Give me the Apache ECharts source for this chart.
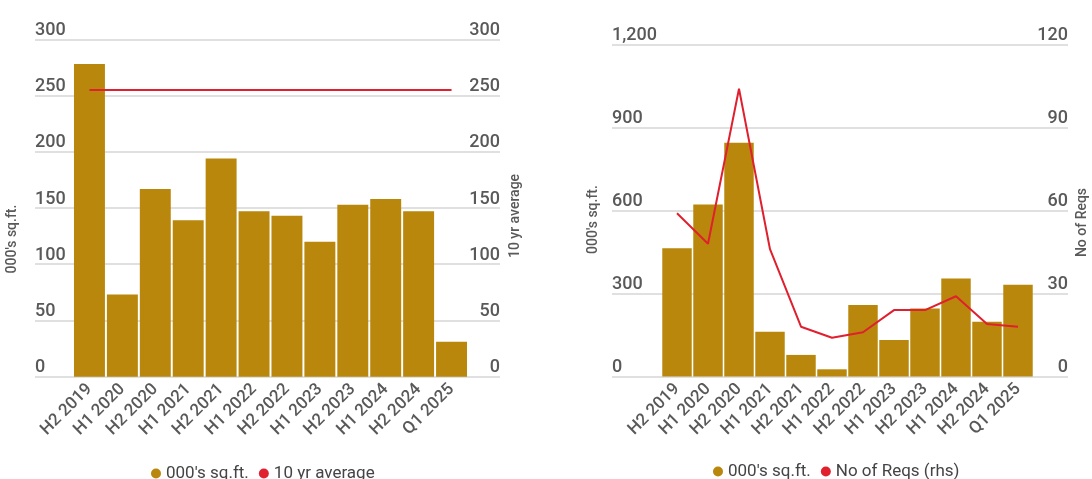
<!DOCTYPE html>
<html>
<head>
<meta charset="utf-8">
<script src="https://cdn.jsdelivr.net/npm/echarts@6/dist/echarts.min.js"></script>
<style>
  html, body { margin: 0; padding: 0; background: #ffffff; }
  #chart { width: 1092px; height: 479px; }
</style>
</head>
<body>
<div id="chart"></div>
<script>
// Periods shared by both panels
const categories = ['H2 2019', 'H1 2020', 'H2 2020', 'H1 2021', 'H2 2021', 'H1 2022',
                    'H2 2022', 'H1 2023', 'H2 2023', 'H1 2024', 'H2 2024', 'Q1 2025'];

// Left panel: take-up (000's sq.ft.) and the 10 year average
const leftSqft = [278, 73, 167, 139, 194, 147, 143, 120, 153, 158, 147, 31];
const leftAvg = [255, 255, 255, 255, 255, 255, 255, 255, 255, 255, 255, 255];

// Right panel: requirements (000's sq.ft.) and number of requirements (rhs)
const rightSqft = [464, 622, 845, 162, 78, 26, 258, 132, 246, 354, 198, 332];
const rightReqs = [59, 48, 104, 46, 18, 14, 16, 24, 24, 29, 19, 18];

// Tick labels
const leftTicks = [0, 50, 100, 150, 200, 250, 300];
const rightTicksL = [0, 300, 600, 900, 1200];
const rightTicksR = [0, 30, 60, 90, 120];

const GOLD = '#b8870b';
const RED = '#e0202e';
const LABEL = '#595959';
const FONT = 'Roboto, "Noto Sans", sans-serif';

function range(t) {
  return { min: t[0], max: t[t.length - 1], interval: t[1] - t[0] };
}

function tickAxis(ticks, side, gridIndex, name, nameGap, namePad, fmt, split) {
  const r = range(ticks);
  return {
    type: 'value', gridIndex: gridIndex, position: side,
    min: r.min, max: r.max, interval: r.interval,
    name: name, nameLocation: 'middle', nameGap: nameGap,
    nameTextStyle: { color: LABEL, fontSize: 14, fontWeight: 500, fontFamily: FONT, padding: namePad },
    axisLine: { show: false }, axisTick: { show: false },
    axisLabel: {
      inside: true, margin: 0, verticalAlign: 'bottom',
      color: LABEL, fontSize: 18, fontWeight: 500, fontFamily: FONT,
      formatter: fmt
    },
    splitLine: { show: split, lineStyle: { color: '#d6d6d6', width: 1.5 } }
  };
}

function hiddenValueAxis(ticks, gridIndex) {
  const r = range(ticks);
  return { type: 'value', gridIndex: gridIndex, min: r.min, max: r.max, interval: r.interval, show: false };
}

function catAxis(gridIndex) {
  return {
    type: 'category', gridIndex: gridIndex, data: categories,
    axisLine: { show: false }, axisTick: { show: false },
    axisLabel: { interval: 0, rotate: 45, margin: 10, color: LABEL, fontSize: 17, fontWeight: 500, fontFamily: FONT }
  };
}

const thousands = v => v.toLocaleString('en-US');

const chart = echarts.init(document.getElementById('chart'), null, { renderer: 'canvas' });
chart.setOption({
  animation: false,
  backgroundColor: '#ffffff',
  textStyle: { fontFamily: FONT },
  grid: [
    { left: 35, right: 592, top: 39.3, bottom: 102.3 },     // left panel frame
    { left: 73, right: 624, top: 39.3, bottom: 102.3 },     // left panel bars
    { left: 612, right: 24, top: 44.5, bottom: 102.5 },     // right panel frame
    { left: 661.5, right: 58.5, top: 44.5, bottom: 102.5 }  // right panel bars
  ],
  xAxis: [
    { type: 'value', gridIndex: 0, show: false, min: 0, max: 1 },
    catAxis(1),
    { type: 'value', gridIndex: 2, show: false, min: 0, max: 1 },
    catAxis(3)
  ],
  yAxis: [
    tickAxis(leftTicks, 'left', 0, "000's sq.ft.", 16, [0, 62, 0, 0], null, true),
    tickAxis(leftTicks, 'right', 0, '10 yr average', 8, [0, 16, 0, 0], null, false),
    hiddenValueAxis(leftTicks, 1),
    tickAxis(rightTicksL, 'left', 2, "000's sq.ft.", 12, [0, 18, 0, 0], thousands, true),
    tickAxis(rightTicksR, 'right', 2, 'No of Reqs', 7, [0, 24, 0, 0], null, false),
    hiddenValueAxis(rightTicksL, 3),
    hiddenValueAxis(rightTicksR, 3)
  ],
  legend: [
    {
      left: 146, top: 460, icon: 'circle', itemWidth: 10, itemHeight: 10, itemGap: 10,
      textStyle: { color: '#444', fontSize: 17, fontFamily: FONT },
      data: ["000's sq.ft.", '10 yr average']
    },
    {
      left: 708, top: 458, icon: 'circle', itemWidth: 10, itemHeight: 10, itemGap: 10,
      textStyle: { color: '#444', fontSize: 17, fontFamily: FONT },
      data: ["000's sq.ft.", 'No of Reqs (rhs)']
    }
  ],
  series: [
    {
      name: "000's sq.ft.", type: 'bar', xAxisIndex: 1, yAxisIndex: 2,
      data: leftSqft, barCategoryGap: '6%', itemStyle: { color: GOLD }
    },
    {
      name: '10 yr average', type: 'line', xAxisIndex: 1, yAxisIndex: 2,
      data: leftAvg, showSymbol: false, lineStyle: { color: RED, width: 2 }, itemStyle: { color: RED }
    },
    {
      name: "000's sq.ft.", type: 'bar', xAxisIndex: 3, yAxisIndex: 5,
      data: rightSqft, barCategoryGap: '5%', itemStyle: { color: GOLD }
    },
    {
      name: 'No of Reqs (rhs)', type: 'line', xAxisIndex: 3, yAxisIndex: 6,
      data: rightReqs, showSymbol: false,
      lineStyle: { color: RED, width: 2 }, itemStyle: { color: RED }
    }
  ]
});
</script>
</body>
</html>
